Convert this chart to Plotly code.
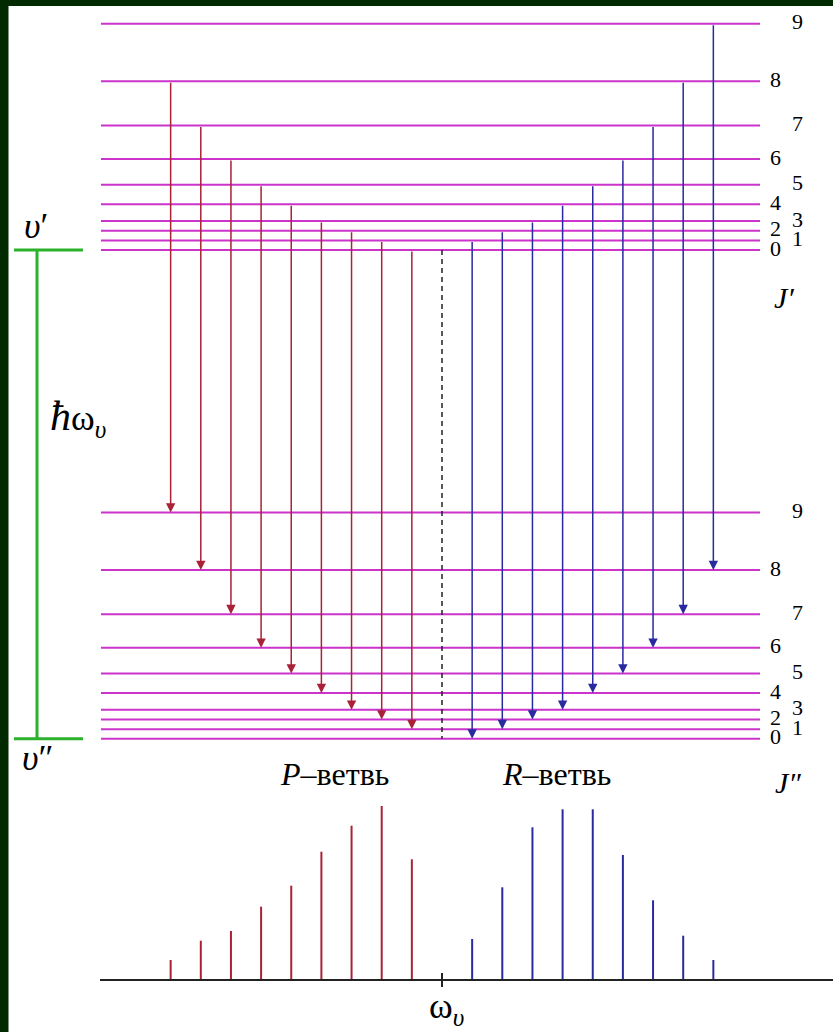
import plotly.graph_objects as go

# ---------------- data ----------------
J_values = list(range(10))
# rotational energy of level J (same pattern for upper and lower vibrational state), arbitrary units
rot_energy = [0, 9.5, 19.2, 28.9, 45.7, 65.2, 90.9, 124.5, 168.7, 226.2]
vib_gap = 488.7          # ħω_v, distance between J'=0 and J''=0
# P-branch: J' = J''-1 -> J''
p_lower_J = [1, 2, 3, 4, 5, 6, 7, 8, 9]
p_intensity = [120.7, 174.0, 154.3, 128.3, 94.3, 73.3, 49.0, 39.3, 20.0]
# R-branch: J' = J''+1 -> J''
r_lower_J = [0, 1, 2, 3, 4, 5, 6, 7, 8]
r_intensity = [41.0, 92.7, 152.7, 170.7, 170.7, 125.0, 79.7, 44.3, 20.0]
level_labels = [str(j) for j in J_values]

# ---------------- layout constants (pixels) ----------------
W, H = 833, 1032
X0_PX, DX_PX = 442.0, 30.15      # pixel of line index m=0 and spacing per index
Y0_PX = 738.7                    # pixel of energy 0 (1 unit = 1 px)
BASE_PX = 980.0                  # spectrum baseline pixel (1 unit = 1 px)

def mx(px):
    return (px - X0_PX) / DX_PX

LEVEL_L, LEVEL_R = mx(101), mx(760)
GREEN_X, GREEN_L, GREEN_R = mx(37), mx(14), mx(83)

MAGENTA = "#cb33cb"
RED = "#a82238"
BLUE = "#2a2aa0"
GREEN = "#2bb12b"
SERIF = "Liberation Serif, Times New Roman, serif"

fig = go.Figure()

# energy levels
lx, ly = [], []
for base in (vib_gap, 0.0):
    for e in rot_energy:
        lx += [LEVEL_L, LEVEL_R, None]
        ly += [base + e, base + e, None]
fig.add_trace(go.Scatter(x=lx, y=ly, mode="lines",
                         line=dict(color=MAGENTA, width=2), hoverinfo="skip"))

# vibrational quantum (green bar)
fig.add_trace(go.Scatter(
    x=[GREEN_L, GREEN_R, None, GREEN_X, GREEN_X, None, GREEN_L, GREEN_R],
    y=[vib_gap, vib_gap, None, vib_gap, 0, None, 0, 0],
    mode="lines", line=dict(color=GREEN, width=3), hoverinfo="skip"))

# forbidden Q line (dashed)
fig.add_trace(go.Scatter(x=[0, 0], y=[vib_gap, 0], mode="lines",
                         line=dict(color="#222222", width=1.5, dash="5px,4px"),
                         hoverinfo="skip"))

annotations = []
# transition arrows
for jl in p_lower_J:
    m = -jl
    annotations.append(dict(x=m, y=rot_energy[jl], ax=m, ay=vib_gap + rot_energy[jl - 1],
                            xref="x", yref="y", axref="x", ayref="y", text="",
                            showarrow=True, arrowhead=2, arrowsize=1.25, arrowwidth=1.5,
                            arrowcolor=RED, standoff=0))
for jl in r_lower_J:
    m = jl + 1
    annotations.append(dict(x=m, y=rot_energy[jl], ax=m, ay=vib_gap + rot_energy[jl + 1],
                            xref="x", yref="y", axref="x", ayref="y", text="",
                            showarrow=True, arrowhead=2, arrowsize=1.25, arrowwidth=1.5,
                            arrowcolor=BLUE, standoff=0))

# spectrum lines
sx, sy = [], []
for jl, inten in zip(p_lower_J, p_intensity):
    sx += [-jl, -jl, None]
    sy += [0, inten, None]
fig.add_trace(go.Scatter(x=sx, y=sy, mode="lines", yaxis="y2",
                         line=dict(color=RED, width=2), hoverinfo="skip"))
sx, sy = [], []
for jl, inten in zip(r_lower_J, r_intensity):
    sx += [jl + 1, jl + 1, None]
    sy += [0, inten, None]
fig.add_trace(go.Scatter(x=sx, y=sy, mode="lines", yaxis="y2",
                         line=dict(color=BLUE, width=2), hoverinfo="skip"))
# baseline and centre tick
fig.add_trace(go.Scatter(x=[mx(100), mx(W), None, 0, 0], y=[0, 0, None, -7, 7],
                         mode="lines", yaxis="y2",
                         line=dict(color="#222222", width=2), hoverinfo="skip"))

# J labels
for base in (vib_gap, 0.0):
    for j, e in zip(J_values, rot_energy):
        xpx = 797 if j % 2 else 775
        annotations.append(dict(x=xpx / W, xref="paper", y=base + e, yref="y",
                                xanchor="center", yanchor="middle",
                                text=level_labels[j], showarrow=False, yshift=2,
                                font=dict(family=SERIF, size=22, color="black")))

def ptxt(xpx, ypx, text, size, **kw):
    annotations.append(dict(x=xpx / W, y=1 - ypx / H, xref="paper", yref="paper",
                            xanchor="center", yanchor="middle",
                            text=text, showarrow=False,
                            font=dict(family=SERIF, size=size, color="black"), **kw))

ptxt(784, 297, "<i>J′</i>", 30)
ptxt(788, 782, "<i>J″</i>", 30)
ptxt(36, 226, "<i>υ</i>′", 36)
ptxt(38, 758, "<i>υ</i>″", 36)
ptxt(78, 418, "<i>ħ</i><span style='font-size:36px'>ω<sub><i>υ</i></sub></span>", 42)
ptxt(334, 774, "<i>P</i>–ветвь", 32)
ptxt(556, 774, "<i>R</i>–ветвь", 32)
ptxt(446, 1008, "ω<sub><i>υ</i></sub>", 36)

shapes = [
    dict(type="rect", xref="paper", yref="paper", x0=0, x1=8.5 / W, y0=0, y1=1,
         fillcolor="#012a01", line=dict(width=0), layer="above"),
    dict(type="rect", xref="paper", yref="paper", x0=0, x1=1, y0=1 - 6 / H, y1=1,
         fillcolor="#012a01", line=dict(width=0), layer="above"),
]

fig.update_layout(
    width=W, height=H, margin=dict(l=0, r=0, t=0, b=0),
    paper_bgcolor="white", plot_bgcolor="white", showlegend=False,
    xaxis=dict(range=[mx(0), mx(W)], visible=False, fixedrange=True),
    yaxis=dict(range=[Y0_PX - H, Y0_PX], visible=False, fixedrange=True),
    yaxis2=dict(range=[BASE_PX - H, BASE_PX], overlaying="y", visible=False,
                fixedrange=True),
    annotations=annotations, shapes=shapes,
)

fig.write_html("out.html", config={"displayModeBar": False},
               post_script="document.body.style.margin='0';"
                           "document.body.style.overflow='hidden';")
